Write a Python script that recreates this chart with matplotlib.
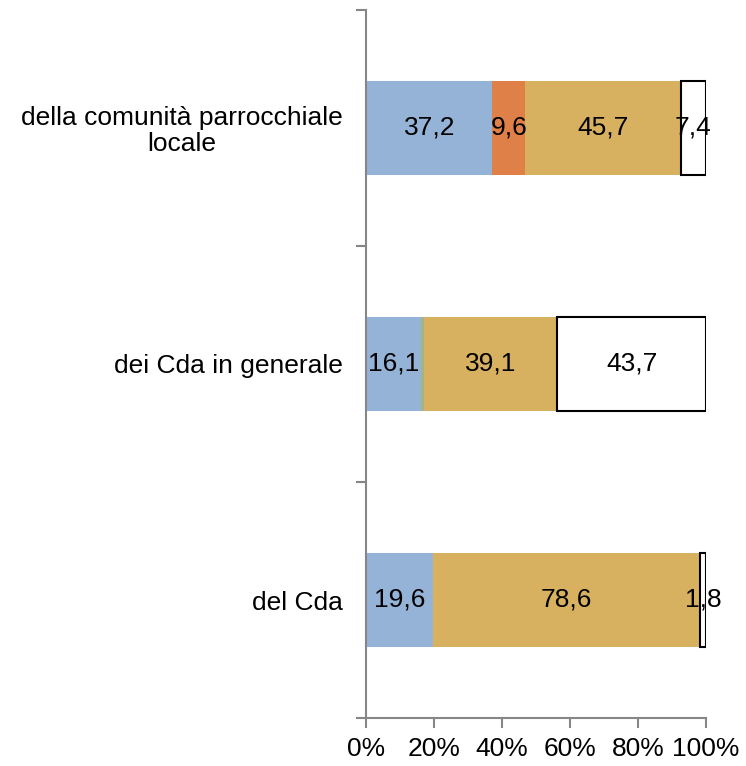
import numpy as np
from matplotlib import pyplot as plt
from matplotlib.ticker import FixedLocator, PercentFormatter

plt.rc("font", family=["Liberation Sans", "DejaVu Sans"])
plt.rc("font", size=19)

categories = ["del Cda", "dei Cda in generale", "della comunità parrocchiale\nlocale"]
blue_vals = [19.6, 16.1, 37.2]
orange_vals = [0.0, 0.0, 9.6]
green_vals = [0.0, 1.1, 0.0]
gold_vals = [78.6, 39.1, 45.7]
white_vals = [1.8, 43.7, 7.4]

series = [
    (blue_vals, {"color": "#95b3d7"}, True),
    (orange_vals, {"color": "#df8048"}, True),
    (green_vals, {"color": "#a3b48a"}, False),
    (gold_vals, {"color": "#d8b160"}, True),
    (white_vals, {"color": "white", "edgecolor": "black", "linewidth": 1.5}, True),
]

fig = plt.figure(figsize=(7.46, 7.66), dpi=100)
ax = fig.add_axes([366 / 746, 1 - 718 / 766, 340 / 746, 708 / 766])

y = np.arange(len(categories))
left = np.zeros(len(categories))
for vals, style, labelled in series:
    vals = np.array(vals)
    ax.barh(y, vals, left=left, height=0.4, **style)
    if labelled:
        for yi, l, v in zip(y, left, vals):
            if v > 0:
                ax.text(l + v / 2, yi, f"{v:.1f}".replace(".", ","),
                        ha="center", va="center", color="black")
    left = left + vals

ax.set_xlim(0, 100)
ax.set_ylim(-0.5, 2.5)
ax.xaxis.set_major_locator(FixedLocator([0, 20, 40, 60, 80, 100]))
ax.xaxis.set_major_formatter(PercentFormatter(decimals=0))
ax.set_yticks(y)
ax.set_yticklabels(categories, multialignment="center", linespacing=1.1)
ax.yaxis.set_minor_locator(FixedLocator([-0.5, 0.5, 1.5, 2.5]))

spine_color = "#868686"
for side in ["top", "right"]:
    ax.spines[side].set_visible(False)
for side in ["left", "bottom"]:
    ax.spines[side].set_color(spine_color)
    ax.spines[side].set_linewidth(1.5)
ax.tick_params(axis="y", which="major", length=0, pad=17)
ax.tick_params(axis="y", which="minor", length=7, width=1.5, color=spine_color)
ax.tick_params(axis="x", length=7, width=1.5, color=spine_color, pad=7)

fig.savefig("out.png", dpi=100)
